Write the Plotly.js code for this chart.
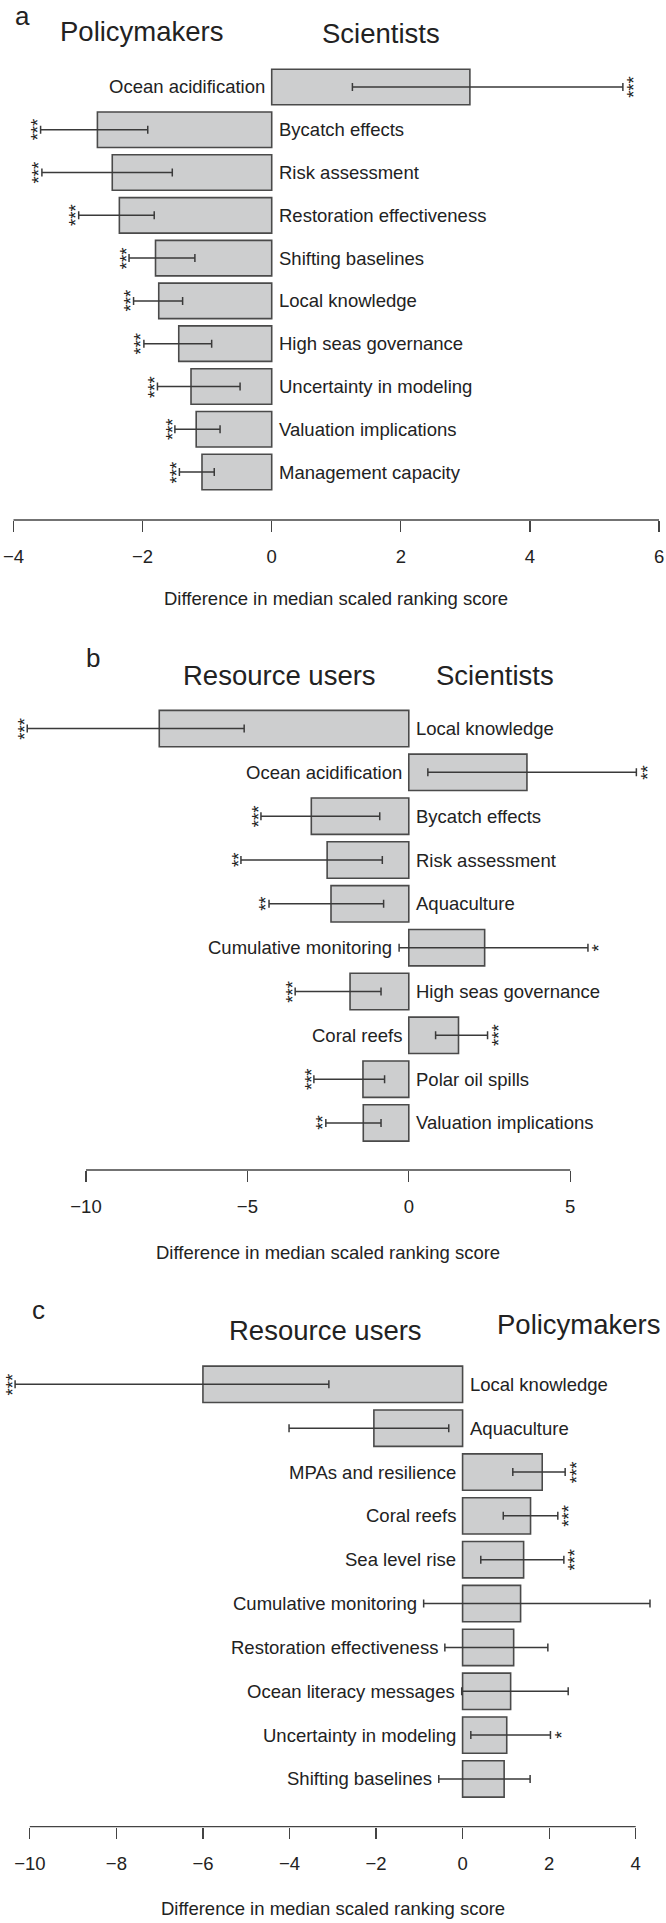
<!DOCTYPE html>
<html><head><meta charset="utf-8">
<script src="https://cdn.plot.ly/plotly-3.0.1.min.js"></script>
<style>html,body{margin:0;padding:0;background:#fff;} #chart{width:666px;height:1923px;}</style>
</head><body><div id="chart"></div>
<script>
// ---------- Data ----------
// Panel a: Policymakers (negative) vs Scientists (positive)
const catsA = ["Ocean acidification","Bycatch effects","Risk assessment","Restoration effectiveness","Shifting baselines","Local knowledge","High seas governance","Uncertainty in modeling","Valuation implications","Management capacity"];
const valsA = [3.07,-2.70,-2.47,-2.36,-1.80,-1.75,-1.44,-1.25,-1.17,-1.08];
const lowA  = [1.25,-3.58,-3.56,-2.99,-2.21,-2.14,-1.98,-1.77,-1.50,-1.43];
const highA = [5.44,-1.92,-1.54,-1.82,-1.19,-1.38,-0.93,-0.49,-0.80,-0.89];
const sigA  = ["***","***","***","***","***","***","***","***","***","***"];
const ticksA = [-4,-2,0,2,4,6];

// Panel b: Resource users (negative) vs Scientists (positive)
const catsB = ["Local knowledge","Ocean acidification","Bycatch effects","Risk assessment","Aquaculture","Cumulative monitoring","High seas governance","Coral reefs","Polar oil spills","Valuation implications"];
const valsB = [-7.73,3.66,-3.02,-2.53,-2.41,2.35,-1.82,1.54,-1.42,-1.41];
const lowB  = [-11.82,0.59,-4.58,-5.20,-4.33,-0.30,-3.52,0.83,-2.94,-2.57];
const highB = [-5.10,7.05,-0.90,-0.82,-0.78,5.55,-0.86,2.44,-0.75,-0.86];
const sigB  = ["***","**","***","**","**","*","***","***","***","**"];
const ticksB = [-10,-5,0,5];

// Panel c: Resource users (negative) vs Policymakers (positive)
const catsC = ["Local knowledge","Aquaculture","MPAs and resilience","Coral reefs","Sea level rise","Cumulative monitoring","Restoration effectiveness","Ocean literacy messages","Uncertainty in modeling","Shifting baselines"];
const valsC = [-6.00,-2.05,1.84,1.57,1.41,1.34,1.18,1.11,1.02,0.96];
const lowC  = [-10.34,-4.01,1.16,0.94,0.42,-0.90,-0.41,-0.02,0.19,-0.55];
const highC = [-3.09,-0.32,2.37,2.20,2.34,4.33,1.97,2.44,2.03,1.56];
const sigC  = ["***","","***","***","***","","","","*",""];
const ticksC = [-10,-8,-6,-4,-2,0,2,4];

const letters = ["a","b","c"];
const leftGroups = ["Policymakers","Resource users","Resource users"];
const rightGroups = ["Scientists","Scientists","Policymakers"];
const axisTitle = "Difference in median scaled ranking score";

// ---------- Layout geometry (pixels) ----------
const W = 666, H = 1923;
const FONT = "Liberation Sans, Arial, Helvetica, sans-serif";
const TXT = "#222";
const panels = [
  {cats:catsA, vals:valsA, low:lowA, high:highA, sig:sigA, ticks:ticksA,
   range:[-4.209,6.108], slotTop:65.6, slotBot:493.4, axisY:520, titleY:598,
   letter:{x:22,y:16}, lg:{x:142,y:32}, rg:{x:381,y:33.5}},
  {cats:catsB, vals:valsB, low:lowB, high:highB, sig:sigB, ticks:ticksB,
   range:[-12.664,7.968], slotTop:706.6, slotBot:1144.9, axisY:1170, titleY:1252,
   letter:{x:93,y:658}, lg:{x:279.5,y:675.4}, rg:{x:495,y:675.4}},
  {cats:catsC, vals:valsC, low:lowC, high:highC, sig:sigC, ticks:ticksC,
   range:[-10.689,4.700], slotTop:1362.4, slotBot:1800.9, axisY:1826.7, titleY:1908,
   letter:{x:38,y:1310}, lg:{x:325,y:1330.4}, rg:{x:579,y:1324}}
];
const py = p => 1 - p / H;
const px = p => p / W;

const data = [], annotations = [], shapes = [];
const layout = {
  width: W, height: H, margin:{l:0,r:0,t:0,b:0},
  paper_bgcolor:"#fff", plot_bgcolor:"rgba(0,0,0,0)",
  showlegend:false, font:{family:FONT, color:TXT, size:18.5},
  annotations, shapes
};

panels.forEach((p, i) => {
  const xa = i === 0 ? "x" : "x" + (i + 1);
  const ya = i === 0 ? "y" : "y" + (i + 1);
  const xk = i === 0 ? "xaxis" : "xaxis" + (i + 1);
  const yk = i === 0 ? "yaxis" : "yaxis" + (i + 1);
  data.push({
    type:"bar", orientation:"h", x:p.vals, y:p.cats, xaxis:xa, yaxis:ya,
    width:0.83,
    marker:{color:"#cdcecf", line:{color:"#4a4a4a", width:1.6}},
    error_x:{type:"data", symmetric:false,
      array:p.vals.map((v,k)=>p.high[k]-v),
      arrayminus:p.vals.map((v,k)=>v-p.low[k]),
      color:"#3a3a3a", thickness:1.5, width:4},
    hoverinfo:"skip"
  });
  layout[yk] = {domain:[py(p.slotBot), py(p.slotTop)], type:"category",
    categoryorder:"array", categoryarray:p.cats, range:[9.5,-0.5],
    visible:false, anchor:xa, fixedrange:true};
  layout[xk] = {domain:[0,1], range:p.range, anchor:"free", position:py(p.axisY),
    tickmode:"array", tickvals:p.ticks, ticks:"outside", ticklen:11, tickwidth:1.3,
    tickcolor:"#444", showline:false, showgrid:false, zeroline:false,
    tickfont:{family:FONT, size:18.5, color:TXT}, ticklabelstandoff:9, fixedrange:true};
  // axis line from first to last tick
  shapes.push({type:"line", xref:xa, yref:"paper",
    x0:p.ticks[0], x1:p.ticks[p.ticks.length-1], y0:py(p.axisY), y1:py(p.axisY),
    line:{color:"#444", width:1.3}});
  // category labels & significance stars
  p.cats.forEach((c,k) => {
    const neg = p.vals[k] < 0;
    annotations.push({xref:xa, yref:ya,
      x: neg ? Math.max(0, p.high[k]) : Math.min(0, p.low[k]), y:c, text:c, showarrow:false,
      xanchor: neg ? "left" : "right", yanchor:"middle", xshift: neg ? 5 : -5,
      font:{family:FONT, size:18.5, color:TXT}});
    if (p.sig[k]) {
      annotations.push({xref:xa, yref:ya, x: neg ? p.low[k] : p.high[k], y:c,
        text:p.sig[k], showarrow:false, textangle:-90,
        xanchor:"center", yanchor:"middle", xshift: neg ? -3 : 11,
        font:{family:FONT, size:18.5, color:TXT}});
    }
  });
  // axis title
  annotations.push({xref:xa, yref:"paper",
    x:(p.ticks[0]+p.ticks[p.ticks.length-1])/2, y:py(p.titleY),
    text:axisTitle, showarrow:false, xanchor:"center", yanchor:"middle",
    font:{family:FONT, size:18.5, color:TXT}});
  // panel letter and group titles
  annotations.push({xref:"paper", yref:"paper", x:px(p.letter.x), y:py(p.letter.y),
    text:letters[i], showarrow:false, xanchor:"center", yanchor:"middle",
    font:{family:FONT, size:26, color:TXT}});
  annotations.push({xref:"paper", yref:"paper", x:px(p.lg.x), y:py(p.lg.y),
    text:leftGroups[i], showarrow:false, xanchor:"center", yanchor:"middle",
    font:{family:FONT, size:27.5, color:TXT}});
  annotations.push({xref:"paper", yref:"paper", x:px(p.rg.x), y:py(p.rg.y),
    text:rightGroups[i], showarrow:false, xanchor:"center", yanchor:"middle",
    font:{family:FONT, size:27.5, color:TXT}});
});

Plotly.newPlot("chart", data, layout, {staticPlot:true, displayModeBar:false});
</script>
</body></html>
